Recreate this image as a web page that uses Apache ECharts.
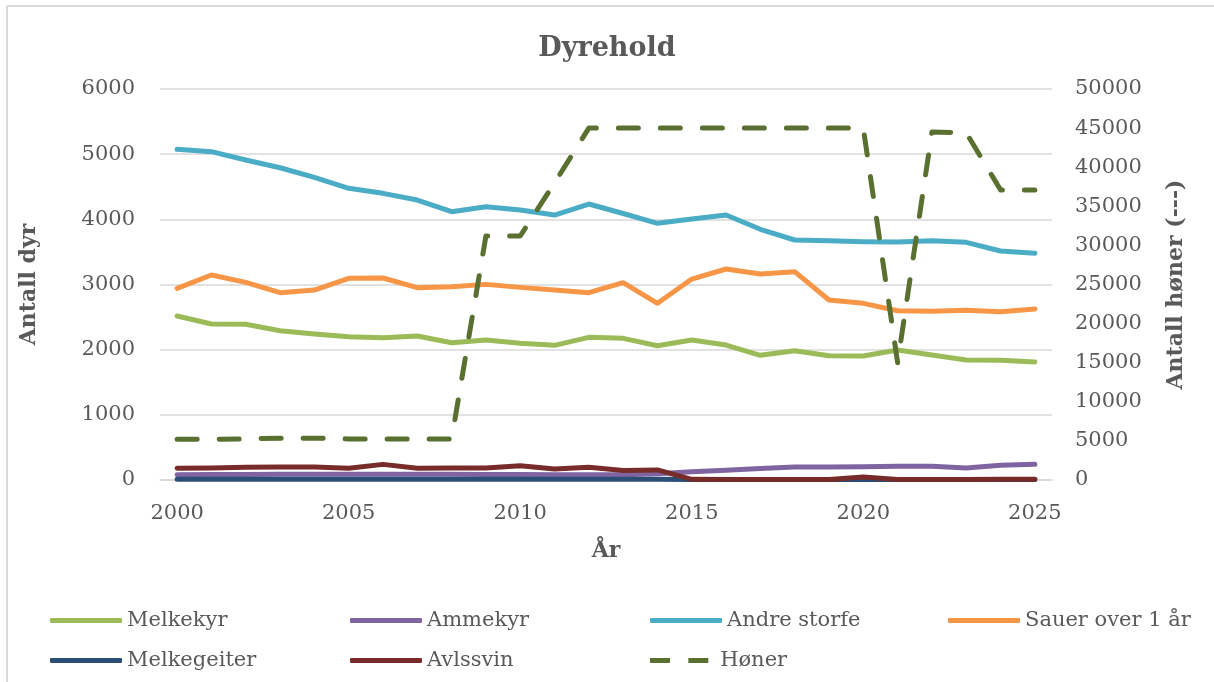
<!DOCTYPE html>
<html>
<head>
<meta charset="utf-8">
<script src="https://cdn.jsdelivr.net/npm/echarts@6/dist/echarts.min.js"></script>
<style>
  html, body { margin: 0; padding: 0; background: #fff; }
  #chart { width: 1214px; height: 682px; }
</style>
</head>
<body>
<div id="chart"></div>
<script>
// Years on the x axis
const years = ['2000','2001','2002','2003','2004','2005','2006','2007','2008','2009','2010','2011','2012',
  '2013','2014','2015','2016','2017','2018','2019','2020','2021','2022','2023','2024','2025']

// Left axis (Antall dyr)
const melkekyr = [2517,2394,2389,2291,2240,2199,2184,2210,2107,2148,2097,2066,2189,2174,2061,2148,2071,1913,1984,1908,1903,1995,1918,1841,1836,1811]
const ammekyr = [80,85,85,90,90,90,90,88,88,85,85,82,80,80,95,125,150,175,200,198,205,210,212,185,225,240]
const andreStorfe = [5074,5038,4910,4792,4645,4476,4399,4296,4117,4194,4143,4066,4235,4090,3939,4005,4066,3847,3683,3672,3657,3652,3672,3647,3514,3478]
const sauer = [2941,3146,3033,2874,2915,3094,3100,2951,2966,3002,2956,2915,2874,3028,2711,3084,3238,3161,3197,2762,2711,2598,2588,2604,2583,2624]
const melkegeiter = [10,10,10,10,10,10,10,10,10,10,10,10,10,10,10,8,8,8,8,8,8,8,8,8,8,8]
const avlssvin = [180,185,195,200,200,180,240,180,185,185,220,170,195,145,155,10,8,8,8,8,45,8,8,8,10,10]

// Right axis (Antall høner)
const honer = [5200,5200,5250,5350,5350,5250,5250,5250,5250,31200,31200,38000,45000,45000,45000,45000,45000,45000,45000,45000,45000,15000,44500,44400,37100,37100]

const font = 'DejaVu Serif'
const textColor = '#595959'
const gridColor = '#d9d9d9'

const chart = echarts.init(document.getElementById('chart'), null, { renderer: 'canvas' })

const mkLine = (name, data, color, axis = 0, dashed = false) => ({
  name,
  type: 'line',
  yAxisIndex: axis,
  data,
  showSymbol: false,
  symbol: 'none',
  lineStyle: dashed
    ? { width: 5, color, type: [20, 22], cap: 'round', join: 'round' }
    : { width: 5, color, cap: 'round', join: 'round' },
  itemStyle: { color },
  emphasis: { disabled: true }
})

// one legend block per entry so the columns line up like the original
const legendItem = (name, left, top, icon = 'roundRect') => ({
  data: [name],
  left,
  top,
  padding: 0,
  icon,
  itemWidth: 72,
  itemHeight: 5,
  itemGap: 0,
  textStyle: { fontFamily: font, fontSize: 21, color: textColor },
  selectedMode: false
})

const plain = (v) => String(v)

const option = {
  animation: false,
  backgroundColor: '#fff',
  title: {
    text: 'Dyrehold',
    left: 'center',
    top: 30,
    textStyle: { fontFamily: font, fontSize: 27, fontWeight: 'bold', color: textColor }
  },
  graphic: [
    { type: 'line', shape: { x1: 7, y1: 6, x2: 1214, y2: 6 }, style: { stroke: gridColor, lineWidth: 2 } },
    { type: 'line', shape: { x1: 7, y1: 6, x2: 7, y2: 682 }, style: { stroke: gridColor, lineWidth: 2 } }
  ],
  grid: { left: 160, right: 162, top: 89, bottom: 202 },
  legend: [
    legendItem('Melkekyr', 50, 610),
    legendItem('Ammekyr', 350, 610),
    legendItem('Andre storfe', 650, 610),
    legendItem('Sauer over 1 år', 948, 610),
    legendItem('Melkegeiter', 50, 650),
    legendItem('Avlssvin', 350, 650),
    legendItem('Høner', 650, 650, 'path://M0,0h24v6h-24z M46,0h24v6h-24z')
  ],
  xAxis: {
    type: 'category',
    data: years,
    boundaryGap: true,
    name: 'År',
    nameLocation: 'middle',
    nameGap: 60,
    nameTextStyle: { fontFamily: font, fontSize: 22, fontWeight: 'bold', color: textColor },
    axisLine: { lineStyle: { color: gridColor, width: 1.5 } },
    axisTick: { show: false },
    axisLabel: { interval: 4, fontFamily: font, fontSize: 21, color: textColor, margin: 23 },
    splitLine: { show: false }
  },
  yAxis: [
    {
      type: 'value',
      min: 0,
      max: 6000,
      interval: 1000,
      name: 'Antall dyr',
      nameLocation: 'middle',
      nameGap: 120,
      nameRotate: 90,
      nameTextStyle: { fontFamily: font, fontSize: 22, fontWeight: 'bold', color: textColor },
      axisLine: { show: false },
      axisTick: { show: false },
      axisLabel: { fontFamily: font, fontSize: 21, color: textColor, margin: 25, formatter: plain },
      splitLine: { lineStyle: { color: gridColor, width: 1.5 } }
    },
    {
      type: 'value',
      position: 'right',
      min: 0,
      max: 50000,
      interval: 5000,
      name: 'Antall høner (---)',
      nameLocation: 'middle',
      nameGap: 113,
      nameRotate: 90,
      nameTextStyle: { fontFamily: font, fontSize: 22, fontWeight: 'bold', color: textColor },
      axisLine: { show: false },
      axisTick: { show: false },
      axisLabel: { fontFamily: font, fontSize: 21, color: textColor, margin: 23, formatter: plain },
      splitLine: { show: false }
    }
  ],
  series: [
    mkLine('Melkekyr', melkekyr, '#9bbb59'),
    mkLine('Ammekyr', ammekyr, '#8064a2'),
    mkLine('Andre storfe', andreStorfe, '#4bacc6'),
    mkLine('Sauer over 1 år', sauer, '#f79646'),
    mkLine('Melkegeiter', melkegeiter, '#2c4d75'),
    mkLine('Avlssvin', avlssvin, '#772c2a'),
    mkLine('Høner', honer, '#5a7030', 1, true)
  ]
}

chart.setOption(option)
</script>
</body>
</html>
